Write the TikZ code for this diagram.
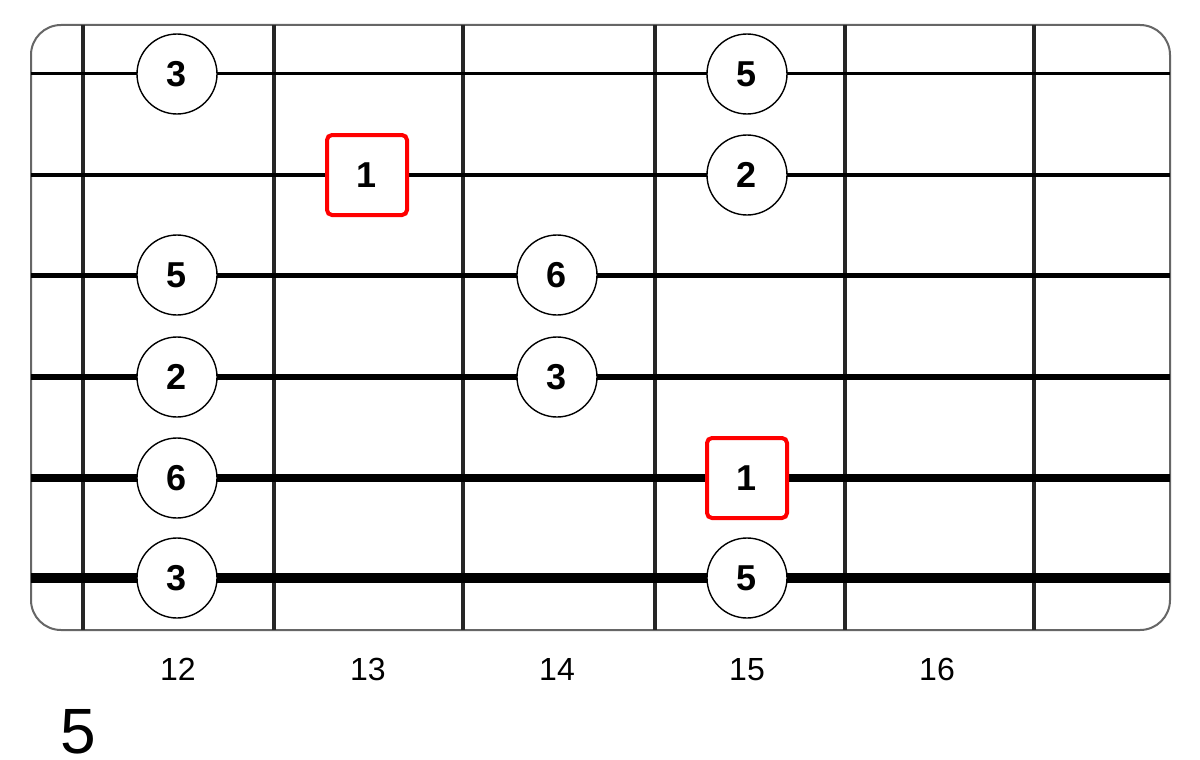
\documentclass[tikz,border=0pt]{standalone}
\usepackage{fontspec}
\setmainfont{Liberation Sans}
\begin{document}
\begin{tikzpicture}[x=1pt,y=-1pt,
  fret/.style={line width=4pt,black!85},
  note/.style={circle,draw,line width=1.4pt,fill=white,minimum size=80pt,inner sep=0pt,font=\fontsize{36}{38}\selectfont\bfseries},
  root/.style={rectangle,draw=red,line width=4pt,rounded corners=5pt,fill=white,minimum size=80pt,inner sep=0pt,font=\fontsize{36}{38}\selectfont\bfseries},
  fretnum/.style={font=\fontsize{32}{34}\selectfont,inner sep=0pt,anchor=base},
  frame/.style={draw=black!60,line width=2pt,rounded corners=30pt}]
\useasboundingbox (0,0) rectangle (1200,760);
\fill[white] (0,0) rectangle (1200,760);
\draw[frame] (31,25) rectangle (1170,630);
% frets
\foreach \x/\n in {83/f0,274/f1,463/f2,655/f3,845/f4,1034/f5}
  \draw[fret] (\x,25) coordinate (\n t) -- (\x,630) coordinate (\n b);
% strings
\foreach \y/\w/\n in {74/3/s1,175/4/s2,275/5/s3,377/6.5/s4,478/8/s5,578/9.5/s6}
  \draw[line width=\w pt] (31,\y) coordinate (\n l) -- (1170,\y) coordinate (\n r);
% notes
\node[note] (n1) at (177,74) {3};
\node[note] (n2) at (747,74) {5};
\node[root] (r1) at (367,175) {1};
\node[note] (n3) at (747,175) {2};
\node[note] (n4) at (177,275) {5};
\node[note] (n5) at (557,275) {6};
\node[note] (n6) at (177,377) {2};
\node[note] (n7) at (557,377) {3};
\node[note] (n8) at (177,478) {6};
\node[root] (r2) at (747,478) {1};
\node[note] (n9) at (177,578) {3};
\node[note] (n10) at (747,578) {5};
% fret numbers
\node[fretnum] (l12) at (178,680) {12};
\node[fretnum] (l13) at (368,680) {13};
\node[fretnum] (l14) at (557,680) {14};
\node[fretnum] (l15) at (747,680) {15};
\node[fretnum] (l16) at (937,680) {16};
\node[font=\fontsize{64}{66}\selectfont,inner sep=0pt,anchor=base] (pos) at (78,753) {5};
\end{tikzpicture}
\end{document}
